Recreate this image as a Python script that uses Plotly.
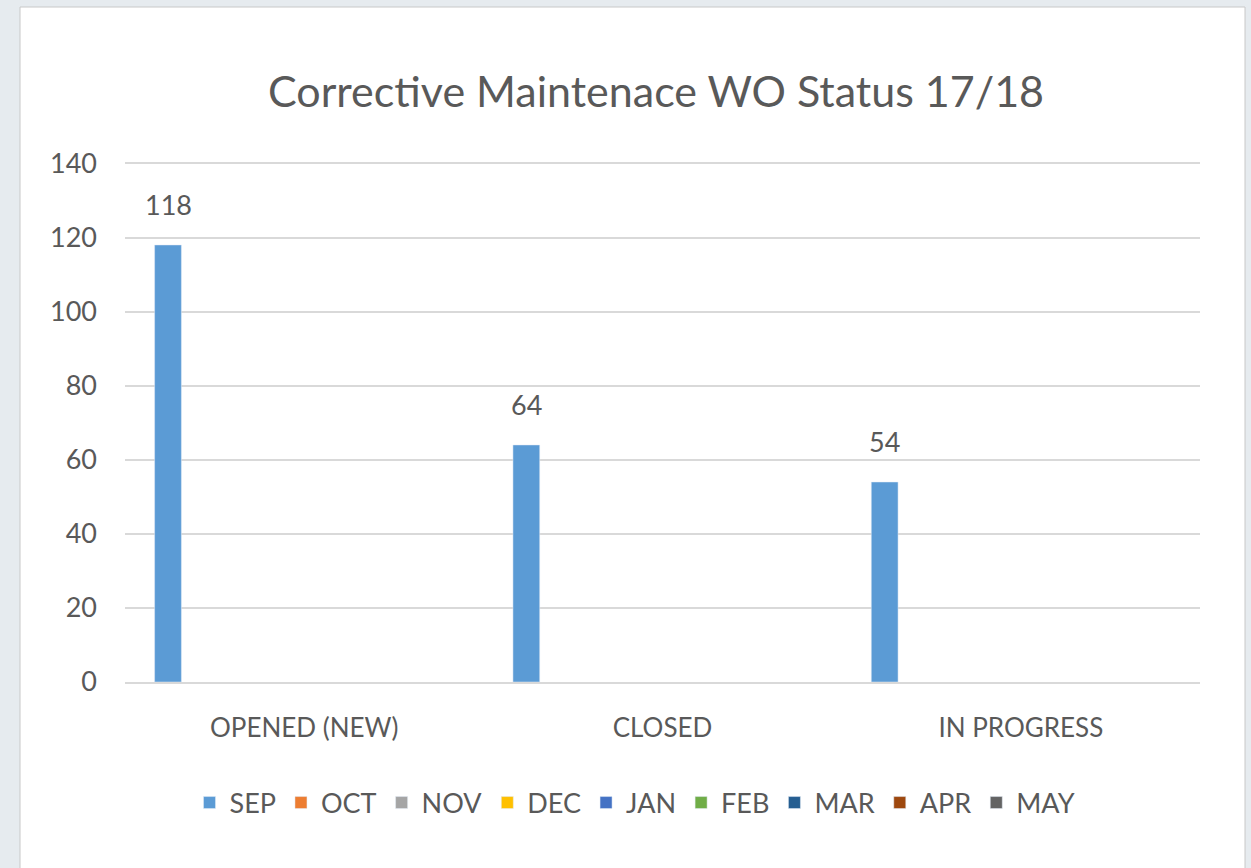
import plotly.graph_objects as go

categories = ["OPENED (NEW)", "CLOSED", "IN PROGRESS"]
months = ["SEP", "OCT", "NOV", "DEC", "JAN", "FEB", "MAR", "APR", "MAY"]
sep_values = [118, 64, 54]
colors = ["#5B9BD5", "#ED7D31", "#A5A5A5", "#FFC000", "#4472C4",
          "#70AD47", "#255E91", "#9E480E", "#636363"]
title_text = "Corrective Maintenace WO Status 17/18"
y_ticks = [0, 20, 40, 60, 80, 100, 120, 140]

series = {m: [None, None, None] for m in months}
series["SEP"] = sep_values

FONT = "Lato, 'Open Sans', sans-serif"
TXT = "#595959"
BG = "#e6ebef"
BARGAP = 0.145
BARGROUPGAP = 0.213

fig = go.Figure()
for m, c in zip(months, colors):
    fig.add_trace(go.Bar(name=m, x=categories, y=series[m], marker_color=c))

# data labels for the SEP series, placed over its slot in each group
n = len(months)
slot_offset = -(1 - BARGAP) / 2 + (1 - BARGAP) / (2 * n)
for i, v in enumerate(sep_values):
    fig.add_annotation(x=i + slot_offset, y=v, text=str(v), showarrow=False,
                       yanchor="bottom", yshift=22,
                       font=dict(family=FONT, size=27, color=TXT))

W, H = 1251, 868
L, R, T, B = 125, 51, 162, 186
pw = W - L - R
ph = H - T - B

fig.add_shape(type="rect", xref="paper", yref="paper",
              x0=(20 - L) / pw, x1=(1245 - L) / pw,
              y0=(H - B - 870) / ph, y1=(H - B - 7) / ph,
              fillcolor="white", line=dict(color="#c8c8c8", width=1), layer="below")

fig.update_layout(
    width=W, height=H,
    margin=dict(l=L, r=R, t=T, b=B),
    paper_bgcolor=BG, plot_bgcolor="white",
    barmode="group", bargap=BARGAP, bargroupgap=BARGROUPGAP,
    title=dict(text=title_text, x=656 / W, xanchor="center", y=1 - 92 / H, yanchor="middle",
               font=dict(family=FONT, size=43, color=TXT)),
    xaxis=dict(tickfont=dict(family=FONT, size=26, color=TXT), showline=True,
               linecolor="#d9d9d9", linewidth=1.5, ticks="", showgrid=False,
               ticklabelstandoff=22),
    yaxis=dict(range=[0, 140.4], tickvals=y_ticks, showgrid=True, gridcolor="#d9d9d9",
               gridwidth=1.5, zeroline=False, ticks="", ticklen=0,
               ticklabelstandoff=27,
               tickfont=dict(family=FONT, size=27, color=TXT)),
    legend=dict(orientation="h", x=(635 - L) / pw, xanchor="center",
                y=-(803 - (H - B)) / ph, yanchor="middle",
                font=dict(family=FONT, size=27, color=TXT), bgcolor="rgba(0,0,0,0)",
                itemwidth=30),
    showlegend=True,
)
fig.write_html("out.html",
               config={"displayModeBar": False},
               post_script="document.body.style.margin='0';"
                           "document.body.style.background='%s';"
                           "document.body.style.overflow='hidden';" % BG)
